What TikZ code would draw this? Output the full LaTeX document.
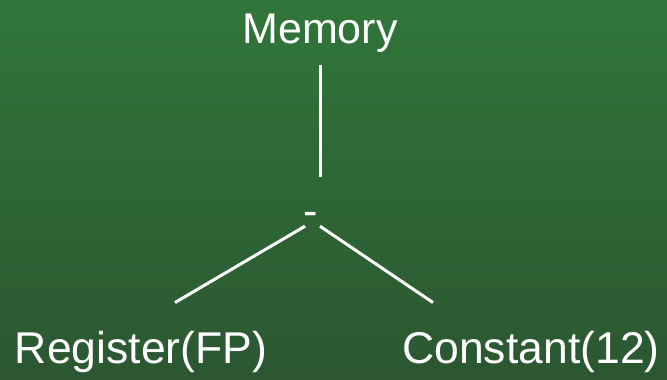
\documentclass[tikz,border=0pt]{standalone}
\usepackage{fontspec}
\setmainfont{Liberation Sans}
\usepackage{xcolor}
\usepackage{tikz}
\tikzset{every picture/.append style={font=\fontsize{43}{50}\selectfont}}
\definecolor{slidetop}{HTML}{30763A}
\definecolor{slidebot}{HTML}{2C5731}
\tikzset{label/.style={text=white,inner sep=0pt,anchor=base},
  leaf/.style={label,font=\fontsize{44.5}{50}\selectfont},
  edge/.style={draw=white,line width=3pt}}

\begin{document}
\begin{tikzpicture}[x=1pt,y=-1pt]
    \shade[top color=slidetop,bottom color=slidebot] (0,0) rectangle (667,380);
    \useasboundingbox (0,0) rectangle (667,380);
    \node[label] (memory) at (320,43) {Memory};
    \node[label] (minus) at (311,225) {-};
    \node[leaf] (reg) at (141,363) {Register(FP)};
    \node[leaf] (const) at (531,363) {Constant(12)};
    \draw[edge] ([yshift=-13pt]memory.south) -- ([yshift=35pt]memory.south |- minus.north);
    \draw[edge] ([xshift=-6pt,yshift=-1pt]minus.south) -- ([xshift=34pt,yshift=28pt]reg.north);
    \draw[edge] ([xshift=9pt,yshift=-1pt]minus.south) -- ([xshift=-98pt,yshift=28pt]const.north);
  \end{tikzpicture}
\end{document}
